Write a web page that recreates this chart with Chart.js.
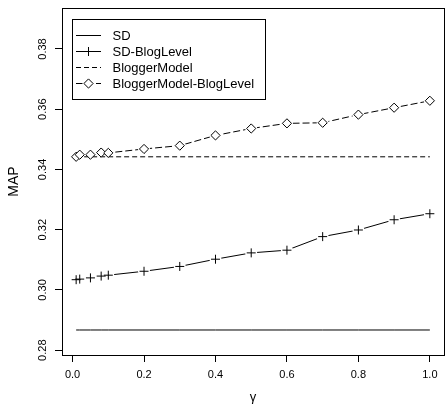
<!DOCTYPE html>
<html>
<head>
<meta charset="utf-8">
<script src="https://cdn.jsdelivr.net/npm/chart.js@4"></script>
<style>
  html, body { margin: 0; padding: 0; background: #fff; }
  #wrap { width: 447px; height: 406px; overflow: hidden; position: relative; }
  #wrap div { width: 450px; height: 406px; }
</style>
</head>
<body>
<div id="wrap"><div><canvas id="map"></canvas></div></div>
<script>
const gamma = [0.01, 0.02, 0.05, 0.08, 0.1, 0.2, 0.3, 0.4, 0.5, 0.6, 0.7, 0.8, 0.9, 1.0];
const sd = [0.2867, 0.2867, 0.2867, 0.2867, 0.2867, 0.2867, 0.2867, 0.2867, 0.2867, 0.2867, 0.2867, 0.2867, 0.2867, 0.2867];
const sdBlogLevel = [0.3034, 0.3036, 0.3040, 0.3046, 0.3049, 0.3062, 0.3078, 0.3102, 0.3123, 0.3132, 0.3177, 0.3199, 0.3233, 0.3253];
const bloggerModel = [0.3442, 0.3442, 0.3442, 0.3442, 0.3442, 0.3442, 0.3442, 0.3442, 0.3442, 0.3442, 0.3442, 0.3442, 0.3442, 0.3442];
const bmBlogLevel = [0.3442, 0.3449, 0.3449, 0.3456, 0.3455, 0.3468, 0.3479, 0.3513, 0.3536, 0.3553, 0.3555, 0.3582, 0.3605, 0.3628];
const seriesNames = ['SD', 'SD-BlogLevel', 'BloggerModel', 'BloggerModel-BlogLevel'];
const xTicks = [0, 0.2, 0.4, 0.6, 0.8, 1.0];
const yTicks = [0.28, 0.30, 0.32, 0.34, 0.36, 0.38];

const FONT = 'Liberation Sans, Arial, sans-serif';
const pts = (ys) => gamma.map((g, i) => ({ x: g, y: ys[i] }));

// line styles per series (used by the legend plugin too)
const styles = [
  { dash: [], marker: null },
  { dash: [], marker: 'cross' },
  { dash: [5, 3], marker: null },
  { dash: [7, 3], marker: 'rectRot' }
];

const base = { borderColor: '#000', borderWidth: 1, fill: false, tension: 0 };

// R "type=b" look: line, then white halo that cuts the line, then marker
// lower order = drawn on top
const datasets = [
  { ...base, label: seriesNames[0], data: pts(sd), pointRadius: 0, order: 10 },
  { ...base, label: seriesNames[1], data: pts(sdBlogLevel), pointRadius: 0, order: 10 },
  { label: 'halo1', data: pts(sdBlogLevel), showLine: false, pointRadius: 6, pointStyle: 'circle',
    pointBackgroundColor: '#fff', pointBorderWidth: 0, order: 6 },
  { label: 'marks1', data: pts(sdBlogLevel), showLine: false, pointRadius: 4.5, pointStyle: 'cross',
    pointBorderColor: '#000', pointBorderWidth: 1, order: 1 },
  { ...base, label: seriesNames[3], data: pts(bmBlogLevel), borderDash: styles[3].dash, pointRadius: 0, order: 12 },
  { label: 'halo2', data: pts(bmBlogLevel), showLine: false, pointRadius: 6, pointStyle: 'circle',
    pointBackgroundColor: '#fff', pointBorderWidth: 0, order: 11 },
  { ...base, label: seriesNames[2], data: pts(bloggerModel), borderDash: styles[2].dash, pointRadius: 0, order: 3 },
  { label: 'marks2', data: pts(bmBlogLevel), showLine: false, pointRadius: 4.6, pointStyle: 'rectRot',
    pointBackgroundColor: '#fff', pointBorderColor: '#000', pointBorderWidth: 1, order: 1 }
];

const boxPlugin = {
  id: 'box',
  afterDraw(chart) {
    const { ctx, chartArea: a } = chart;
    ctx.save();
    ctx.strokeStyle = '#000';
    ctx.lineWidth = 1;
    ctx.strokeRect(Math.round(a.left) + 0.5, Math.round(a.top) + 0.5,
      Math.round(a.right - a.left), Math.round(a.bottom - a.top));
    ctx.restore();
  }
};

const legendPlugin = {
  id: 'rlegend',
  afterDraw(chart) {
    const { ctx } = chart;
    const x0 = 72.5, y0 = 19.5, w = 193, h = 80;
    ctx.save();
    ctx.fillStyle = '#fff';
    ctx.fillRect(x0, y0, w, h);
    ctx.strokeStyle = '#000';
    ctx.lineWidth = 1;
    ctx.strokeRect(x0, y0, w, h);
    ctx.font = '13px ' + FONT;
    ctx.textBaseline = 'middle';
    seriesNames.forEach((name, i) => {
      const y = 35 + i * 16;
      const yl = Math.round(y) + 0.5;
      const st = styles[i];
      ctx.strokeStyle = '#000';
      ctx.setLineDash(st.dash);
      ctx.beginPath();
      ctx.moveTo(76, yl);
      ctx.lineTo(101, yl);
      ctx.stroke();
      ctx.setLineDash([]);
      if (st.marker) {
        ctx.fillStyle = '#fff';
        if (st.marker === 'rectRot') {
          ctx.beginPath();
          ctx.arc(88.5, yl, 6, 0, Math.PI * 2);
          ctx.fill();
        }
        Chart.helpers.drawPoint(ctx, {
          pointStyle: st.marker, radius: st.marker === 'cross' ? 4.5 : 4.6, borderWidth: 1
        }, 88.5, yl);
      }
      ctx.fillStyle = '#000';
      ctx.fillText(name, 112.5, y + 1);
    });
    ctx.restore();
  }
};

new Chart(document.getElementById('map'), {
  type: 'line',
  data: { datasets },
  options: {
    responsive: true,
    maintainAspectRatio: false,
    animation: false,
    layout: { padding: { top: 8, right: 1, left: 0, bottom: 0 } },
    plugins: { legend: { display: false }, tooltip: { enabled: false } },
    scales: {
      x: {
        type: 'linear',
        min: -0.0296,
        max: 1.0396,
        afterBuildTicks: (s) => { s.ticks = xTicks.map(v => ({ value: v })); },
        afterFit: (s) => { s.height = 51; },
        border: { display: false },
        grid: { drawOnChartArea: false, drawTicks: true, tickLength: 7, color: '#000' },
        ticks: {
          color: '#000', padding: 6, maxRotation: 0,
          font: { family: FONT, size: 11 },
          callback: (v) => v.toFixed(1)
        },
        title: {
          display: true, text: 'γ', color: '#000',
          font: { family: FONT, size: 13 }, padding: { top: 0, bottom: 1 }
        }
      },
      y: {
        type: 'linear',
        min: 0.2784,
        max: 0.3936,
        afterBuildTicks: (s) => { s.ticks = yTicks.map(v => ({ value: v })); },
        afterFit: (s) => { s.width = 62; },
        border: { display: false },
        grid: { drawOnChartArea: false, drawTicks: true, tickLength: 7, color: '#000' },
        ticks: {
          color: '#000', padding: 1, minRotation: 90, maxRotation: 90, crossAlign: 'center',
          font: { family: FONT, size: 11 },
          callback: (v) => v.toFixed(2)
        },
        title: {
          display: true, text: 'MAP', color: '#000',
          font: { family: FONT, size: 14 }, padding: { top: 6, bottom: 0 }
        }
      }
    }
  },
  plugins: [boxPlugin, legendPlugin]
});
</script>
</body>
</html>
